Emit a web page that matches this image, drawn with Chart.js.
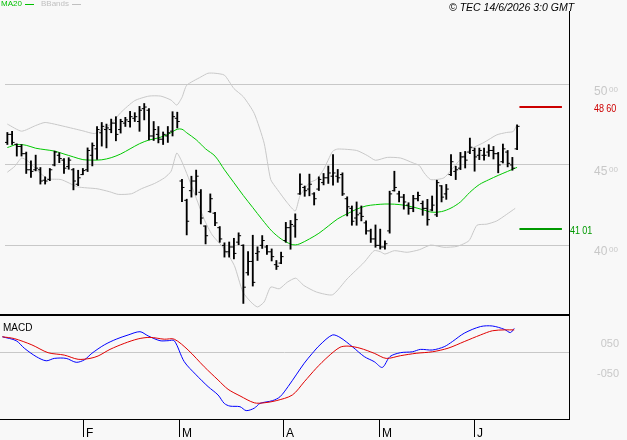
<!DOCTYPE html>
<html><head><meta charset="utf-8">
<script src="https://cdn.jsdelivr.net/npm/chart.js@4.4.1/dist/chart.umd.min.js"></script>
<style>
body{margin:0;background:#f8f8f8;}
#wrap{position:relative;width:627px;height:440px;overflow:hidden;font-family:"Liberation Sans",Arial,sans-serif;background:#f8f8f8;}
canvas{position:absolute;left:0;}
.t{position:absolute;white-space:nowrap;line-height:1;}
.seg{position:absolute;height:1px;}
</style></head><body>
<div id="wrap">
<canvas id="price" width="627" height="316" style="top:0;width:627px;height:316px"></canvas>
<canvas id="macd" width="627" height="124" style="top:316px;width:627px;height:124px"></canvas>
<div class="t" style="left:1px;top:0px;font-size:8px;color:#00c000">MA20</div>
<div class="seg" style="left:25px;top:4px;width:9px;background:#00c000"></div>
<div class="t" style="left:41px;top:0px;font-size:8px;color:#c0c0c0">BBands</div>
<div class="seg" style="left:72px;top:4px;width:9px;background:#c0c0c0"></div>
<div class="t" style="left:449px;top:2px;font-size:10.5px;font-style:italic;color:#000">© TEC 14/6/2026 3:0 GMT</div>
<div class="t" style="left:3px;top:323px;font-size:10px;color:#000">MACD</div>
</div>
<script>
// ---- OHLC data (index 0 = first bar) ----
const highs = [4702,4709,4631,4627,4580,4525,4561,4484,4426,4478,
4586,4576,4539,4545,4478,4467,4478,4606,4637,4739,
4764,4754,4785,4800,4784,4796,4833,4825,4864,4882,
4850,4770,4739,4705,4739,4831,4828,4410,4287,4430,
4468,4347,4122,4320,4205,4117,4016,4021,4044,4078,
4004,3962,4063,3991,4061,4001,3978,3906,3958,4143,
4155,4196,4445,4369,4443,4328,4426,4447,4493,4564,
4472,4451,4302,4245,4270,4245,4152,4101,4127,4101,
4029,4337,4461,4337,4317,4265,4311,4331,4276,4286,
4307,4405,4372,4379,4564,4492,4578,4584,4667,4605,
4605,4605,4626,4615,4578,4630,4590,4547,4749];
const lows = [4627,4627,4555,4555,4447,4422,4463,4381,4381,4402,
4494,4514,4447,4473,4345,4371,4439,4459,4494,4535,
4617,4606,4700,4650,4698,4739,4735,4770,4709,4780,
4656,4652,4637,4627,4640,4680,4730,4271,4065,4300,
4313,4133,4009,4205,4122,4019,3927,3927,3916,4004,
3639,3814,3747,3906,3981,3944,3903,3850,3886,4019,
3976,4050,4316,4305,4308,4251,4341,4376,4385,4375,
4392,4310,4183,4125,4125,4152,4070,4018,3988,3977,
3977,4076,4337,4270,4225,4193,4209,4276,4187,4125,
4214,4179,4270,4286,4434,4409,4471,4481,4570,4461,
4533,4529,4553,4537,4451,4512,4488,4467,4595];
const opens = [4640,4690,4628,4615,4570,4470,4470,4470,4405,4410,
4500,4560,4530,4490,4470,4380,4440,4470,4560,4600,
4700,4720,4720,4760,4720,4760,4770,4790,4770,4850,
4840,4680,4690,4660,4680,4710,4790,4400,4280,4340,
4400,4330,4120,4210,4200,4110,4000,3960,3990,4020,
4000,3830,3900,3950,4000,3990,3960,3880,3890,4030,
4110,4120,4320,4360,4350,4320,4350,4390,4420,4430,
4430,4440,4290,4230,4170,4200,4140,4090,4040,4000,
3990,4090,4340,4320,4300,4250,4230,4290,4260,4230,
4220,4190,4370,4320,4440,4460,4480,4550,4580,4590,
4560,4560,4580,4590,4570,4520,4580,4500,4600];
const closes = [4690,4640,4615,4570,4470,4460,4480,4400,4400,4470,
4580,4540,4480,4530,4400,4420,4465,4590,4620,4720,
4740,4730,4760,4690,4770,4780,4800,4800,4840,4860,
4680,4720,4660,4690,4700,4800,4770,4360,4150,4400,
4430,4170,4060,4290,4140,4040,3960,3990,3950,4060,
3740,3900,3770,3960,4030,3960,3930,3870,3930,4110,
4130,4160,4380,4340,4380,4290,4410,4420,4450,4450,
4420,4320,4240,4150,4190,4180,4090,4040,4000,3990,
4010,4320,4360,4300,4270,4230,4290,4310,4230,4160,
4250,4390,4300,4350,4520,4470,4550,4530,4610,4550,
4590,4560,4590,4570,4500,4600,4510,4480,4740];

// ---- MA20 (bar index, value) ----
const maIdx = [0,2,4,6,8,10,12,14,16,18,20,22,24,26,28,30,32,34,36,37,38,40,42,44,46,48,50,52,54,56,58,60,61,62,64,66,68,70,72,74,76,78,80,82,84,86,88,90,92,94,96,98,100,102,104,106,108];
const maVal = [4608,4627,4622,4604,4595,4586,4568,4550,4533,4530,4532,4545,4568,4600,4632,4655,4668,4690,4722,4722,4700,4657,4600,4555,4470,4390,4310,4235,4160,4090,4040,4008,4003,4010,4040,4075,4120,4165,4196,4225,4245,4253,4257,4256,4250,4238,4222,4206,4210,4232,4270,4330,4378,4408,4435,4460,4485];

// ---- Bollinger bands ----
const upIdx = [0,3,6,8,12,16,18.5,20.5,22,24,27,30,32.5,34.7,35.9,37,38,41,42.5,44,46,48,50,52.3,54.4,55.8,57.2,59.3,61,62,64,65.5,67,68.9,70,74,76.3,78,80.5,83.3,86,87.3,88.3,89.7,92.5,95.3,98,101,103.7,105.8,107.2,108];
const upVal = [4754,4710,4745,4764,4740,4712,4695,4728,4755,4825,4900,4928,4928,4903,4872,4920,4995,5047,5070,5070,5058,4975,4924,4821,4636,4409,4348,4265,4214,4307,4389,4410,4471,4584,4599,4590,4558,4529,4547,4543,4512,4496,4451,4409,4420,4512,4595,4640,4687,4702,4708,4753];
const loIdx = [0,1.6,3,4.4,6.5,8.6,11.4,14.9,19,21.6,23.5,26.3,28.4,31.2,33.3,34.7,35.9,37.1,39.6,41.7,43.4,46,48.1,49.9,51.6,53,54.4,55.8,57.6,59.3,61.1,62.8,65.5,68.9,72,75.6,77.7,79,80,82,84.7,87.3,89.7,92.5,95.3,97.8,99.5,101.6,103.7,105.8,107.6];
const loVal = [4455,4492,4543,4523,4461,4414,4409,4364,4352,4334,4317,4321,4352,4385,4420,4461,4574,4512,4327,4162,4065,3977,3874,3710,3648,3617,3648,3741,3730,3771,3796,3751,3710,3693,3792,3895,3967,3961,3946,3967,3957,3973,4002,3988,3994,4029,4125,4132,4152,4193,4230];

// ---- MACD and signal ----
const macdIdx = [0,2.9,4.6,7.1,9.2,10.9,13.4,15.5,17.2,18.8,21.4,23.9,26.4,28.9,30.6,33.1,34.8,36.1,38.2,40.7,43.2,45.3,46.6,47.8,49.9,51.2,52.9,54.1,56.7,58.3,60,61.7,63.4,65.1,66.7,69.3,70.9,73.5,76,78.1,79.8,81.4,83.6,86.1,87.8,90.3,92.8,94.5,97,100.4,102.9,105.4,106.7,107.5];
const macdVal = [54,41,16,-12,-26,-18,-18,-31,-23,-1,27,46,60,71,57,41,41,41,-29,-73,-112,-140,-168,-177,-179,-192,-184,-168,-159,-146,-112,-73,-34,-1,27,60,52,21,-12,-29,-48,-12,1,4,12,10,21,38,66,88,90,79,68,82];
const sigIdx = [0,2.5,6.2,9.6,13,15.9,18.4,20.1,22.6,25.6,28.5,31,34,36.1,39,42.4,45.3,47.4,49.9,52.9,55,57.5,60.9,63.4,65.9,68.4,70.9,72.6,75.1,78.1,80.6,83.6,86.9,90.3,93.6,97,100.4,102.9,105.4,107.5];
const sigVal = [54,48,27,1,-7,-21,-18,-10,12,32,47,52,46,46,10,-46,-90,-121,-143,-166,-166,-159,-140,-96,-51,-12,19,23,16,-1,-18,-9,-1,4,16,38,60,74,77,77];

// ---- ticks / labels ----
const monthTicks = [17,37,59,79,99];
const monthLabels = ['F','M','A','M','J'];
const priceTicks = [4000,4500,5000];
const macdTicks = [50,-50];
const macdLabels = ['050','-050'];
const levelValues = [4860,4101];
const levelLabels = ['4860','4101'];

const FONT = '"Liberation Sans", Arial, sans-serif';
const xMin = -0.5, xMax = 119;
const pts = (xs, ys) => xs.map((x,k)=>({x, y: ys[k]}));

const priceDeco = {
  id:'priceDeco',
  afterDraw(chart){
    const {ctx, chartArea:a, scales:{x, y}} = chart;
    ctx.save();
    ctx.strokeStyle='#000';
    ctx.lineWidth=1;
    ctx.beginPath(); ctx.moveTo(a.right+0.5, a.top); ctx.lineTo(a.right+0.5, chart.height); ctx.stroke();
    ctx.lineWidth=2;
    ctx.beginPath(); ctx.moveTo(0, chart.height-1); ctx.lineTo(a.right+1, chart.height-1); ctx.stroke();
    ctx.fillStyle='#c8c8c8';
    ctx.textAlign='left'; ctx.textBaseline='alphabetic';
    priceTicks.forEach(v=>{
      const py = y.getPixelForValue(v);
      const s = String(v);
      ctx.font='12px '+FONT;
      ctx.fillText(s.slice(0,2), 594, py+10);
      ctx.font='8px '+FONT;
      ctx.fillText(s.slice(2), 609, py+7);
    });
    const last = highs.length-1;
    const x0 = x.getPixelForValue(last+0.5), x1 = x.getPixelForValue(last+9.5);
    const colors = ['#cc0000','#009900'];
    const lx = [594, 570];
    levelValues.forEach((v,k)=>{
      const py = y.getPixelForValue(v);
      ctx.strokeStyle=colors[k]; ctx.lineWidth=2;
      ctx.beginPath(); ctx.moveTo(x0, py); ctx.lineTo(x1, py); ctx.stroke();
      ctx.fillStyle=colors[k];
      ctx.font='11px '+FONT;
      const s = levelLabels[k];
      ctx.save(); ctx.translate(lx[k], py+5); ctx.scale(0.82,1);
      ctx.fillText(s.slice(0,2), 0, 0);
      ctx.fillText(s.slice(2), 15, 0);
      ctx.restore();
    });
    ctx.restore();
  }
};

const macdDeco = {
  id:'macdDeco',
  afterDraw(chart){
    const {ctx, chartArea:a, scales:{x, y}} = chart;
    ctx.save();
    ctx.strokeStyle='#000'; ctx.lineWidth=1;
    ctx.beginPath(); ctx.moveTo(a.right+0.5, 0); ctx.lineTo(a.right+0.5, a.bottom+1); ctx.stroke();
    ctx.beginPath(); ctx.moveTo(0, a.bottom+0.5); ctx.lineTo(a.right+1, a.bottom+0.5); ctx.stroke();
    ctx.fillStyle='#c8c8c8'; ctx.font='11px '+FONT;
    ctx.textAlign='right'; ctx.textBaseline='alphabetic';
    macdTicks.forEach((v,k)=>{
      const py = y.getPixelForValue(v);
      ctx.fillText(macdLabels[k], 619, py+9);
    });
    ctx.fillStyle='#000'; ctx.textAlign='left'; ctx.font='12px '+FONT;
    monthTicks.forEach((v,k)=>{
      const px = Math.round(x.getPixelForValue(v))+0.5;
      ctx.beginPath(); ctx.moveTo(px, a.bottom); ctx.lineTo(px, a.bottom+18); ctx.stroke();
      ctx.fillText(monthLabels[k], px+2.5, a.bottom+18);
    });
    ctx.restore();
  }
};

const common = {
  responsive:false, maintainAspectRatio:false, animation:false, devicePixelRatio:1, events:[],
  plugins:{legend:{display:false}, tooltip:{enabled:false}}
};

new Chart(document.getElementById('price'), {
  type:'line',
  data:{datasets:[
    {type:'bar', data: highs.map((h,i)=>({x:i, y:[lows[i], h]})), backgroundColor:'#000', borderWidth:0, barThickness:1.2},
    {type:'scatter', data: pts(opens.map((_,i)=>i), opens), pointStyle:'dash', pointRotation:180, pointRadius:2.5, pointBorderColor:'#000', pointBackgroundColor:'#000', pointBorderWidth:1, showLine:false},
    {type:'scatter', data: pts(closes.map((_,i)=>i), closes), pointStyle:'dash', pointRotation:0, pointRadius:2.5, pointBorderColor:'#000', pointBackgroundColor:'#000', pointBorderWidth:1, showLine:false},
    {type:'line', data: pts(maIdx, maVal), borderColor:'#00c800', borderWidth:1, pointRadius:0, tension:0.3, fill:false},
    {type:'line', data: pts(upIdx, upVal), borderColor:'#c8c8c8', borderWidth:1, pointRadius:0, tension:0.2, fill:false},
    {type:'line', data: pts(loIdx, loVal), borderColor:'#c8c8c8', borderWidth:1, pointRadius:0, tension:0.2, fill:false}
  ]},
  options:Object.assign({}, common, {
    layout:{padding:{top:11,bottom:1,left:0,right:0}},
    scales:{
      x:{type:'linear', min:xMin, max:xMax, offset:false, grid:{offset:false}, display:false},
      y:{position:'right', min:3592, max:5457, beginAtZero:false, grace:0,
         afterFit(s){ s.width=58; },
         afterBuildTicks(s){ s.ticks = priceTicks.map(v=>({value:v})); },
         ticks:{display:false}, grid:{color:'#c8c8c8', drawTicks:false}, border:{display:false}}
    }
  }),
  plugins:[priceDeco]
});

new Chart(document.getElementById('macd'), {
  type:'line',
  data:{datasets:[
    {data: pts(sigIdx, sigVal), borderColor:'#e00000', borderWidth:1, pointRadius:0, tension:0.3, fill:false},
    {data: pts(macdIdx, macdVal), borderColor:'#0000ff', borderWidth:1, pointRadius:0, tension:0.3, fill:false}
  ]},
  options:Object.assign({}, common, {
    layout:{padding:0},
    scales:{
      x:{type:'linear', min:xMin, max:xMax, offset:false,
         afterFit(s){ s.height=21; },
         ticks:{display:false}, grid:{display:false}, border:{display:false}},
      y:{position:'right', min:-220, max:123.3,
         afterFit(s){ s.width=58; },
         afterBuildTicks(s){ s.ticks=[{value:0}]; },
         ticks:{display:false}, grid:{color:'#c8c8c8', drawTicks:false}, border:{display:false}}
    }
  }),
  plugins:[macdDeco]
});
</script>
</body></html>
